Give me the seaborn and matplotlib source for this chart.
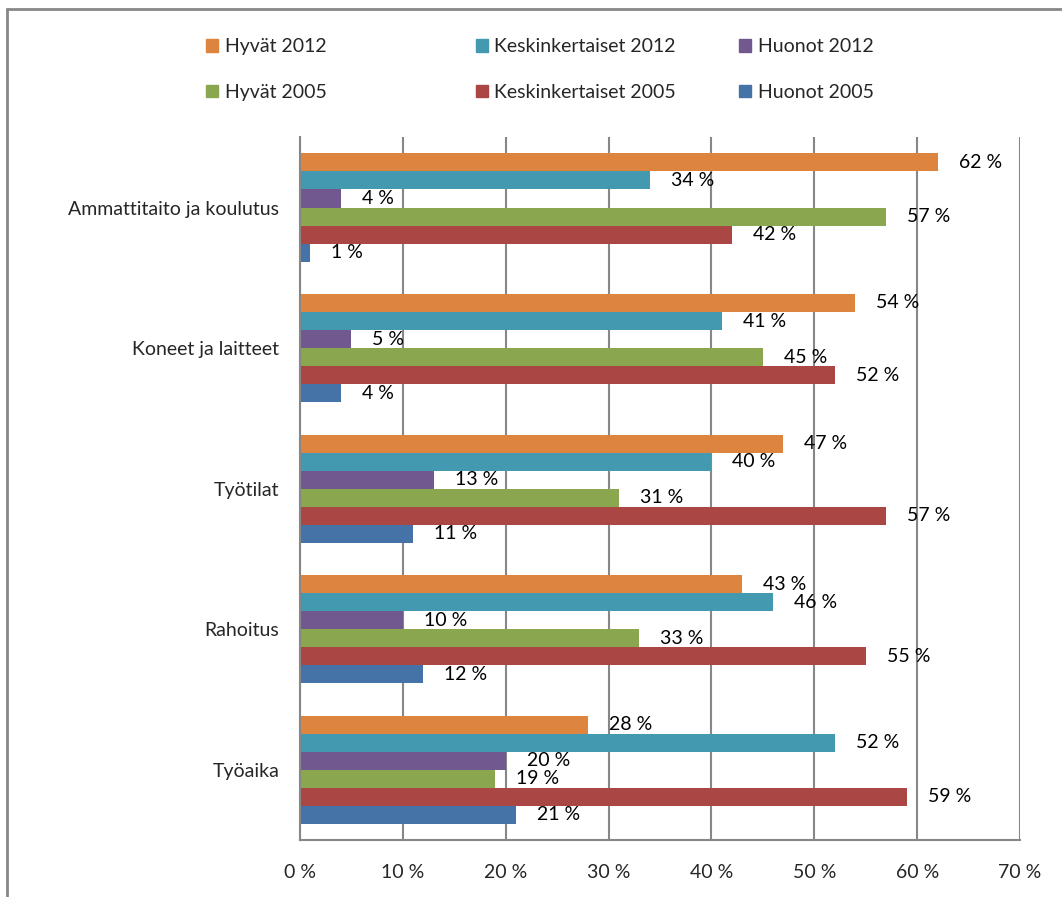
import pandas as pd
import matplotlib.pyplot as plt
import seaborn as sns
from matplotlib.ticker import FixedLocator, PercentFormatter
from matplotlib.lines import Line2D
from matplotlib.patches import Patch

# -----------------------------
# Data
# -----------------------------
categories = ["Ammattitaito ja koulutus", "Koneet ja laitteet", "Työtilat", "Rahoitus", "Työaika"]
series = ["Hyvät 2012", "Keskinkertaiset 2012", "Huonot 2012",
          "Hyvät 2005", "Keskinkertaiset 2005", "Huonot 2005"]

hyvat_2012 = [62, 54, 47, 43, 28]
keski_2012 = [34, 41, 40, 46, 52]
huonot_2012 = [4, 5, 13, 10, 20]
hyvat_2005 = [57, 45, 31, 33, 19]
keski_2005 = [42, 52, 57, 55, 59]
huonot_2005 = [1, 4, 11, 12, 21]

colors = ["#DD843F", "#4299B0", "#71588F", "#8AA64E", "#AA4644", "#4572A7"]

values = [hyvat_2012, keski_2012, huonot_2012, hyvat_2005, keski_2005, huonot_2005]
rows = []
for name, vals in zip(series, values):
    for cat, v in zip(categories, vals):
        rows.append({"Kategoria": cat, "Sarja": name, "Arvo": v})
df = pd.DataFrame(rows)

# -----------------------------
# Plot
# -----------------------------
sns.set_style("white")
plt.rcParams["font.family"] = ["Lato", "DejaVu Sans"]
fs = 14

fig = plt.figure(figsize=(10.62, 8.97), dpi=100)
ax = fig.add_axes([0.2825, 0.0635, 0.678, 0.7835])

sns.barplot(data=df, y="Kategoria", x="Arvo", hue="Sarja", order=categories,
            hue_order=series, palette=colors, orient="h", width=0.77,
            saturation=1, linewidth=0, legend=False, ax=ax)

# value labels
for container in ax.containers:
    ax.bar_label(container, labels=[f"{v:.0f} %" for v in container.datavalues],
                 padding=15, fontsize=fs, color="black")

ax.set_xlim(0, 70)
ax.set_ylim(4.5, -0.5)
ax.set_xticks(range(0, 71, 10))
ax.xaxis.set_major_formatter(PercentFormatter(decimals=0, symbol=" %"))
ax.set_xlabel("")
ax.set_ylabel("")

# gridlines and axes
gray = "#878787"
ax.grid(axis="x", color=gray, linewidth=1.5)
ax.set_axisbelow(True)
for s in ["top", "right"]:
    ax.spines[s].set_visible(False)
for s in ["left", "bottom"]:
    ax.spines[s].set_color(gray)
    ax.spines[s].set_linewidth(1.5)

ax.tick_params(axis="x", direction="out", length=7, width=1.5, color=gray,
               labelsize=fs, pad=10)
ax.tick_params(axis="y", which="major", length=0, labelsize=fs, pad=15)
ax.yaxis.set_minor_locator(FixedLocator([-0.5, 0.5, 1.5, 2.5, 3.5, 4.5]))
ax.tick_params(axis="y", which="minor", direction="out", length=7, width=1.5, color=gray)

# legend: rows as in the original (three columns, two rows)
col_x = [0.185, 0.439, 0.687]
for i, x in enumerate(col_x):
    handles = [Patch(color=colors[i]), Patch(color=colors[i + 3])]
    labels = [series[i], series[i + 3]]
    fig.legend(handles, labels, loc="upper left", bbox_to_anchor=(x, 0.968),
               frameon=False, fontsize=fs, handlelength=0.6, handleheight=0.6,
               handletextpad=0.35, labelspacing=1.45, borderpad=0)

# chart border
fig.add_artist(Line2D([0.0066, 0.0066], [0, 0.99], color=gray, linewidth=2))
fig.add_artist(Line2D([0.0066, 1.0], [0.99, 0.99], color=gray, linewidth=2))

fig.savefig("out.png", dpi=100)
